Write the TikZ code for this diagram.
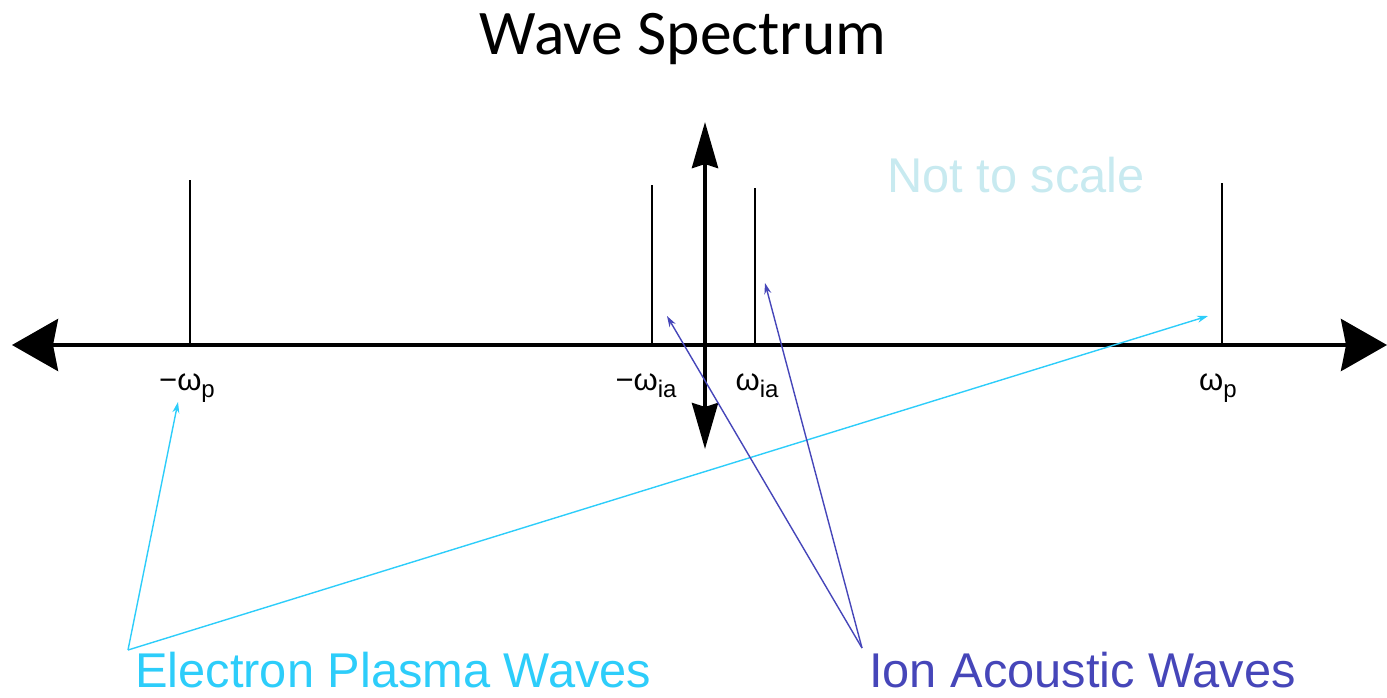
\documentclass[tikz,border=0pt]{standalone}
\usepackage{fontspec}
\setmainfont{Liberation Sans}
\newfontfamily\titlefont{Carlito}
\usetikzlibrary{arrows.meta}
\definecolor{epcol}{RGB}{45,205,250}
\definecolor{iacol}{RGB}{70,70,185}
\definecolor{nscol}{RGB}{200,234,240}
\newcommand{\lblsub}[1]{\raisebox{-7pt}{\fontsize{24}{24}\selectfont #1}}
\begin{document}
\begin{tikzpicture}[x=1pt,y=-1pt,
  axisline/.style={line width=4pt},
  spike/.style={line width=2.2pt},
  lab/.style={inner sep=0pt,anchor=base,font=\fontsize{31}{31}\selectfont},
  pointer/.style={line width=1.4pt,-{Stealth[length=11pt,width=7pt]}},
  bigtext/.style={inner sep=0pt,anchor=base west,font=\fontsize{48.8}{49}\selectfont}]
\useasboundingbox (0,0) rectangle (1387,697);
% title
\node[inner sep=0pt,anchor=base] (title) at (683,54) {\titlefont\fontsize{63.5}{70}\selectfont Wave Spectrum};
% axes
\coordinate (L) at (12,345);
\coordinate (R) at (1387,345);
\coordinate (T) at (705,122);
\coordinate (B) at (705,449);
\draw[axisline,{Stealth[length=46pt,width=52pt,inset=5pt]}-{Stealth[length=46pt,width=52pt,inset=5pt]}] (L) -- (R);
\draw[axisline,{Stealth[length=46pt,width=26pt,inset=4pt]}-{Stealth[length=46pt,width=26pt,inset=4pt]}] (B) -- (T);
% spikes
\coordinate (s1b) at (190,345); \coordinate (s1t) at (190,180);
\coordinate (s2b) at (652,345); \coordinate (s2t) at (652,185);
\coordinate (s3b) at (755,345); \coordinate (s3t) at (755,188);
\coordinate (s4b) at (1222,345); \coordinate (s4t) at (1222,183);
\draw[spike] (s1b) -- (s1t);
\draw[spike] (s2b) -- (s2t);
\draw[spike] (s3b) -- (s3t);
\draw[spike] (s4b) -- (s4t);
% labels
\node[lab] (lmp) at (187,390) {−ω\lblsub{p}};
\node[lab] (lmia) at (646,390) {−ω\lblsub{ia}};
\node[lab] (lia) at (757,390) {ω\lblsub{ia}};
\node[lab] (lp) at (1218,390) {ω\lblsub{p}};
% not to scale
\node[bigtext,text=nscol] (nts) at (887,192) {Not to scale};
% bottom texts
\node[bigtext,text=epcol] (epw) at (135,687) {Electron Plasma Waves};
\node[bigtext,text=iacol] (iaw) at (869,687) {Ion Acoustic Waves};
\coordinate (ej) at (128,650);
\coordinate (ij) at (862,648);
\coordinate (e1) at (178,402);
\coordinate (e2) at (1208,316);
\coordinate (i1) at (667,316);
\coordinate (i2) at (765,283);
\draw[pointer,epcol] (ej) -- (e1);
\draw[pointer,epcol] (ej) -- (e2);
\draw[pointer,iacol] (ij) -- (i1);
\draw[pointer,iacol] (ij) -- (i2);
\end{tikzpicture}
\end{document}
